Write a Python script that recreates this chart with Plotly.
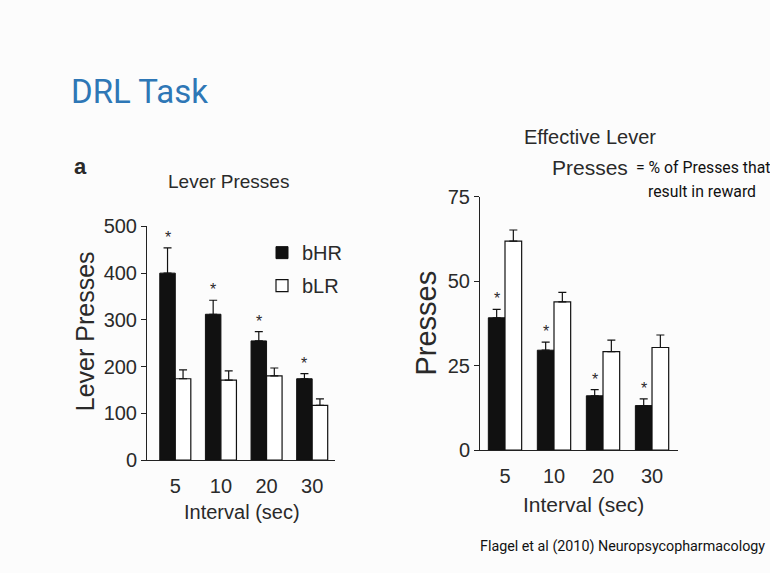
import plotly.graph_objects as go

intervals = ["5", "10", "20", "30"]

# Left panel: Lever Presses
lp_bHR = [400, 312, 255, 174]
lp_bHR_err = [54, 30, 20, 11]
lp_bLR = [174, 171, 180, 117]
lp_bLR_err = [19, 20, 17, 14]

# Right panel: Effective Lever Presses (%)
ep_bHR = [39.2, 29.6, 16.1, 13.2]
ep_bHR_err = [2.5, 2.4, 1.8, 2.0]
ep_bLR = [61.9, 43.9, 29.2, 30.4]
ep_bLR_err = [3.3, 2.8, 3.4, 3.7]

left_ticks = [0, 100, 200, 300, 400, 500]
right_ticks = [0, 25, 50, 75]

W, H = 770, 573
xi = list(range(len(intervals)))
BW = 0.34
AX = "#222222"
TXT = "#2a2a2a"
FONT = "Liberation Sans, Arial, sans-serif"
SLIDE = "Roboto, Liberation Sans, sans-serif"

def px(xp):
    return xp / W

def py(yp):
    return 1 - yp / H

fig = go.Figure()

def add_panel(vals_h, err_h, vals_l, err_l, xa, ya, legend):
    fig.add_trace(go.Bar(
        x=xi, y=vals_h, width=BW, offset=-BW, name="bHR", legendgroup="bHR",
        marker=dict(color="#111111", line=dict(color="#111111", width=1)),
        error_y=dict(type="data", array=err_h, arrayminus=[0] * 4, symmetric=False,
                     color="#111111", thickness=1.2, width=4),
        xaxis=xa, yaxis=ya, showlegend=legend))
    fig.add_trace(go.Bar(
        x=xi, y=vals_l, width=BW, offset=0, name="bLR", legendgroup="bLR",
        marker=dict(color="white", line=dict(color="#111111", width=1.2)),
        error_y=dict(type="data", array=err_l, arrayminus=[0] * 4, symmetric=False,
                     color="#111111", thickness=1.2, width=4),
        xaxis=xa, yaxis=ya, showlegend=legend))
    for i in xi:
        fig.add_annotation(x=i - BW / 2, y=vals_h[i] + err_h[i], xref=xa, yref=ya,
                           text="*", showarrow=False, yanchor="bottom", yshift=0,
                           font=dict(size=16, color=TXT, family=FONT))

add_panel(lp_bHR, lp_bHR_err, lp_bLR, lp_bLR_err, "x", "y", True)
add_panel(ep_bHR, ep_bHR_err, ep_bLR, ep_bLR_err, "x2", "y2", False)

axis_common = dict(showline=True, linecolor=AX, linewidth=1, showgrid=False, zeroline=False,
                   tickfont=dict(size=20, color=TXT, family=FONT))

fig.update_layout(
    width=W, height=H, autosize=False,
    margin=dict(l=0, r=0, t=0, b=0),
    paper_bgcolor="#FCFCFC", plot_bgcolor="rgba(0,0,0,0)",
    barmode="overlay",
    showlegend=True,
    legend=dict(x=px(262), y=py(231), xanchor="left", yanchor="top",
                font=dict(size=20, color=TXT, family=FONT), tracegroupgap=4,
                bgcolor="rgba(0,0,0,0)", itemwidth=30),
    xaxis=dict(domain=[px(147), px(335)], range=[-0.62, 3.5],
               tickvals=xi, ticktext=intervals, ticks="", ticklabelstandoff=8, **axis_common),
    yaxis=dict(domain=[py(467), py(224)], range=[0, 500], anchor="x",
               tickvals=left_ticks, ticks="outside", ticklen=5, tickcolor=AX, **axis_common),
    xaxis2=dict(domain=[px(480), px(678)], range=[-0.51, 3.53], anchor="y2",
                tickvals=xi, ticktext=intervals, ticks="", ticklabelstandoff=8, **axis_common),
    yaxis2=dict(domain=[py(456.7), py(193.3)], range=[0, 75], anchor="x2",
                tickvals=right_ticks, ticks="outside", ticklen=5, tickcolor=AX, **axis_common),
)

def note(text, x, y, size, color=TXT, family=FONT, xanchor="center", angle=0, bold=False):
    if bold:
        text = "<b>" + text + "</b>"
    fig.add_annotation(text=text, x=px(x), y=py(y), xref="paper", yref="paper",
                       showarrow=False, xanchor=xanchor, yanchor="middle", textangle=angle,
                       font=dict(size=size, color=color, family=family))

# slide title
note("DRL Task", 69, 84, 33, color="#2E77B6", family=SLIDE, xanchor="left")
# left panel texts
note("a", 72, 162, 22, xanchor="left", bold=True)
note("Lever Presses", 228, 177, 19)
note("Lever Presses", 85, 333, 25, angle=-90)
note("Interval (sec)", 242, 521, 20)
# right panel texts
note("Effective Lever", 590, 131, 20)
note("Presses", 590, 163, 21)
note("= % of Presses that", 634, 163, 15.8, family=SLIDE, color="#111111", xanchor="left")
note("result in reward", 646, 188, 15.8, family=SLIDE, color="#111111", xanchor="left")
note("Presses", 426, 324, 29, angle=-90)
note("Interval (sec)", 583, 513, 21)
# citation
note("Flagel et al (2010) Neuropsycopharmacology", 478, 557, 14.3, family=SLIDE,
     color="#111111", xanchor="left")

page_fix = (
    "document.body.style.margin='0';"
    "document.body.style.padding='0';"
    "document.body.style.overflow='hidden';"
)
fig.write_html("out.html", config={"displayModeBar": False}, post_script=page_fix)
